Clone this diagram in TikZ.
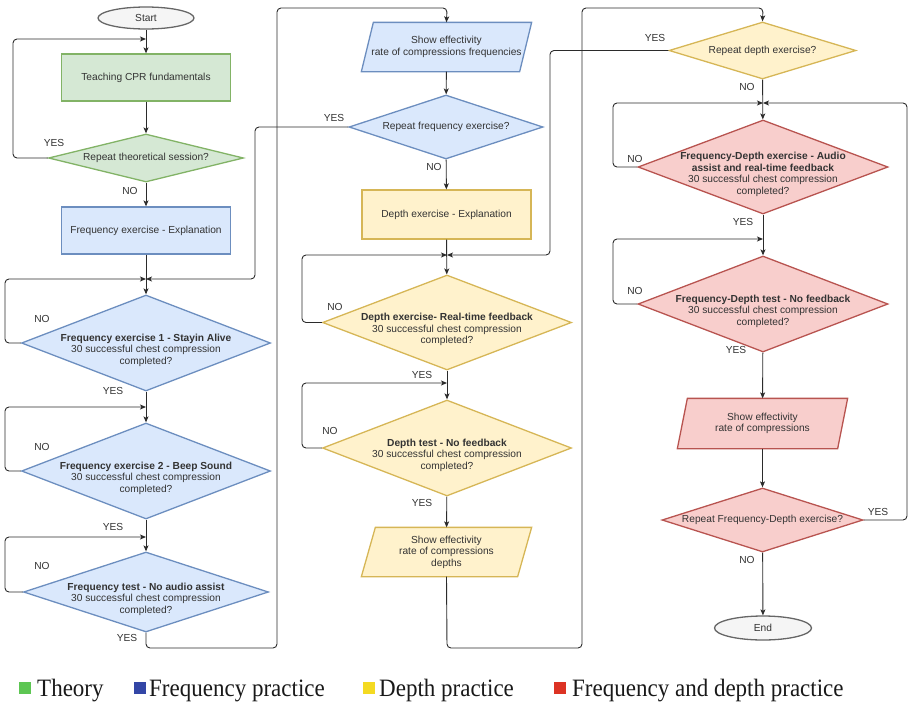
\documentclass[tikz,border=0pt]{standalone}
\usepackage{fontspec}
\usepackage{graphicx}
\setmainfont{Liberation Serif}
\setsansfont{Liberation Sans}
\usetikzlibrary{shapes.geometric,arrows.meta,backgrounds}
\definecolor{gF}{HTML}{D5E8D4}\definecolor{gD}{HTML}{82B366}
\definecolor{bF}{HTML}{DAE8FC}\definecolor{bD}{HTML}{6C8EBF}
\definecolor{yF}{HTML}{FFF2CC}\definecolor{yD}{HTML}{D6B656}
\definecolor{rF}{HTML}{F8CECC}\definecolor{rD}{HTML}{B85450}
\definecolor{nF}{HTML}{F5F5F5}\definecolor{nD}{HTML}{666666}
\definecolor{ln}{HTML}{2B2B2B}
\definecolor{lgG}{HTML}{5DC653}\definecolor{lgB}{HTML}{3346A6}
\definecolor{lgY}{HTML}{F4DA22}\definecolor{lgR}{HTML}{DC3324}
\newcommand{\dtxt}[2][-3pt]{\smash{\makebox[0pt]{\raisebox{#1}{\begin{tabular}{@{}c@{}}#2\end{tabular}}}}}
\begin{document}
\begin{tikzpicture}[x=1pt,y=-1pt,
  every node/.style={font=\sffamily\fontsize{10.2}{11.6}\selectfont, text=black!80},
  shp/.style={line width=1.3pt, inner sep=0pt},
  rbox/.style={shp, rectangle, minimum width=169pt, minimum height=47pt},
  dia/.style={shp, diamond},
  term/.style={shp, ellipse, draw=nD, fill=nF},
  para/.style={shp, rectangle, minimum width=169pt, minimum height=48pt, align=center},
  gsty/.style={draw=gD, fill=gF},
  bsty/.style={draw=bD, fill=bF},
  ysty/.style={draw=yD, fill=yF},
  rsty/.style={draw=rD, fill=rF},
  arr/.style={draw=ln, line width=0.9pt, rounded corners=4pt, -{Stealth[length=6pt,width=5pt,inset=1.5pt]}},
  lbl/.style={text=black!80},
  lgsq/.style={minimum size=12pt, inner sep=0pt},
  lgtx/.style={anchor=base west, inner sep=0pt, font=\rmfamily\fontsize{25}{25}\selectfont, text=black!90}
]
\useasboundingbox (0,0) rectangle (908,702);

% ---------------- column 1 ----------------
\node[term, minimum width=96pt, minimum height=22pt] (start) at (146,18) {Start};
\node[rbox,gsty] (teach) at (146,77.5) {Teaching CPR fundamentals};
\node[dia,gsty,minimum width=195pt,minimum height=48pt] (d0) at (146,158) {\dtxt{Repeat theoretical session?}};
\node[rbox,bsty] (fexp) at (146,230.5) {Frequency exercise - Explanation};
\node[dia,bsty,minimum width=249pt,minimum height=96pt] (d1) at (146,343)
  {\dtxt[-10pt]{\textbf{Frequency exercise 1 - Stayin Alive}\\30 successful chest compression\\completed?}};
\node[dia,bsty,minimum width=249pt,minimum height=96pt] (d2) at (146,471)
  {\dtxt[-10pt]{\textbf{Frequency exercise 2 - Beep Sound}\\30 successful chest compression\\completed?}};
\node[dia,bsty,minimum width=245pt,minimum height=80pt] (d3) at (146,592)
  {\dtxt[-10pt]{\textbf{Frequency test - No audio assist}\\30 successful chest compression\\completed?}};
\coordinate (m0) at (146,39);
\coordinate (m1) at (146,279);
\coordinate (m2) at (146,407);
\coordinate (m3) at (146,537);

% ---------------- column 2 ----------------
\node[para] (pf) at (446.5,47) {Show effectivity\\rate of compressions frequencies};
\node[dia,bsty,minimum width=194pt,minimum height=64pt] (drf) at (446,127) {\dtxt{Repeat frequency exercise?}};
\node[rbox,ysty,minimum height=49pt] (dexp) at (446.5,214.5) {Depth exercise - Explanation};
\node[dia,ysty,minimum width=249pt,minimum height=95pt] (dd1) at (447,322.5)
  {\dtxt[-10pt]{\textbf{Depth exercise- Real-time feedback}\\30 successful chest compression\\completed?}};
\node[dia,ysty,minimum width=249pt,minimum height=96pt] (dd2) at (447,448)
  {\dtxt[-10pt]{\textbf{Depth test - No feedback}\\30 successful chest compression\\completed?}};
\node[para] (pd) at (446.5,552) {Show effectivity\\rate of compressions\\depths};
\coordinate (m4) at (447,255);
\coordinate (m5) at (447,383);

% ---------------- column 3 ----------------
\node[dia,ysty,minimum width=187pt,minimum height=57pt] (drd) at (762.5,50.5) {\dtxt{Repeat depth exercise?}};
\node[dia,rsty,minimum width=250pt,minimum height=94pt] (dfd1) at (763,167)
  {\dtxt[-10pt]{\textbf{Frequency-Depth exercise - Audio}\\\textbf{assist and real-time feedback}\\30 successful chest compression\\completed?}};
\node[dia,rsty,minimum width=250pt,minimum height=96pt] (dfd2) at (763,304)
  {\dtxt[-10pt]{\textbf{Frequency-Depth test - No feedback}\\30 successful chest compression\\completed?}};
\node[para,minimum height=49pt] (pr) at (762.5,423.5) {Show effectivity\\rate of compressions};
\node[dia,rsty,minimum width=201pt,minimum height=64pt] (drfd) at (762.5,520) {\dtxt{Repeat Frequency-Depth exercise?}};
\node[term, minimum width=97pt, minimum height=24pt] (end) at (763,628) {End};
\coordinate (m6) at (763,103);
\coordinate (m7) at (763,239);

% parallelogram bodies
\begin{scope}[on background layer]
  \filldraw[bsty, line width=1.3pt] ([xshift=12pt]pf.north west) -- (pf.north east) -- ([xshift=-12pt]pf.south east) -- (pf.south west) -- cycle;
  \filldraw[ysty, line width=1.3pt] ([xshift=14pt]pd.north west) -- (pd.north east) -- ([xshift=-14pt]pd.south east) -- (pd.south west) -- cycle;
  \filldraw[rsty, line width=1.3pt] ([xshift=10pt]pr.north west) -- (pr.north east) -- ([xshift=-10pt]pr.south east) -- (pr.south west) -- cycle;
\end{scope}

% ---------------- connectors ----------------
\draw[arr] (start) -- (teach);
\draw[arr] (teach) -- (d0);
\draw[arr] (d0.west) -- (13,158) |- (m0);
\draw[arr] (d0) -- (fexp);
\draw[arr] (fexp) -- (d1);
\draw[arr] (d1.west) -- (5,343) |- (m1);
\draw[arr] (drf.west) -- (255,127) |- (m1);
\draw[arr] (d1) -- (d2);
\draw[arr] (d2.west) -- (5,471) |- (m2);
\draw[arr] (d2) -- (d3);
\draw[arr] (d3.west) -- (5,592) |- (m3);
\draw[arr] (d3.south) -- (146,648) -- (277,648) -- (277,8) -- (447,8) -- (pf.north);

\draw[arr] (pf) -- (drf);
\draw[arr] (drf) -- (dexp);
\draw[arr] (dexp) -- (dd1);
\draw[arr] (dd1.west) -- (302,322.5) |- (m4);
\draw[arr] (drd.west) -- (550,50.5) |- (m4);
\draw[arr] (dd1) -- (dd2);
\draw[arr] (dd2.west) -- (302,448) |- (m5);
\draw[arr] (dd2) -- (pd);
\draw[arr] (pd.south) -- (447,648) -- (582,648) -- (582,8) -- (763,8) -- (drd.north);

\draw[arr] (drd) -- (dfd1);
\draw[arr] (dfd1.west) -- (613,167) |- (m6);
\draw[arr] (drfd.east) -- (907,520) |- (m6);
\draw[arr] (dfd1) -- (dfd2);
\draw[arr] (dfd2.west) -- (613,304) |- (m7);
\draw[arr] (dfd2) -- (pr);
\draw[arr] (pr) -- (drfd);
\draw[arr] (drfd) -- (end);

% ---------------- labels ----------------
\node[lbl] (l0y) at (54,143) {YES};
\node[lbl] (l0n) at (130,191) {NO};
\node[lbl] (l1n) at (42,319) {NO};
\node[lbl] (l1y) at (113,391) {YES};
\node[lbl] (l2n) at (42,447) {NO};
\node[lbl] (l2y) at (113,527) {YES};
\node[lbl] (l3n) at (42,566) {NO};
\node[lbl] (l3y) at (127,638) {YES};
\node[lbl] (lrfy) at (334,118) {YES};
\node[lbl] (lrfn) at (434,167) {NO};
\node[lbl] (ld1n) at (335,307) {NO};
\node[lbl] (ld1y) at (422,375) {YES};
\node[lbl] (ld2n) at (330,431) {NO};
\node[lbl] (ld2y) at (422,503) {YES};
\node[lbl] (lrdy) at (655,38) {YES};
\node[lbl] (lrdn) at (747,87) {NO};
\node[lbl] (lf1n) at (635,159) {NO};
\node[lbl] (lf1y) at (743,222) {YES};
\node[lbl] (lf2n) at (635,291) {NO};
\node[lbl] (lf2y) at (736,350) {YES};
\node[lbl] (lrfdy) at (878,512) {YES};
\node[lbl] (lrfdn) at (747,560) {NO};

% ---------------- legend ----------------
\node[lgsq, fill=lgG] (sqg) at (25,688) {};
\node[lgtx] (txg) at (37,696) {\scalebox{0.92}[1]{Theory}};
\node[lgsq, fill=lgB] (sqb) at (140,688) {};
\node[lgtx] (txb) at (149,696) {\scalebox{0.92}[1]{Frequency practice}};
\node[lgsq, fill=lgY] (sqy) at (368.5,688) {};
\node[lgtx] (txy) at (379,696) {\scalebox{0.92}[1]{Depth practice}};
\node[lgsq, fill=lgR] (sqr) at (560,688) {};
\node[lgtx] (txr) at (572,696) {\scalebox{0.92}[1]{Frequency and depth practice}};
\end{tikzpicture}
\end{document}
